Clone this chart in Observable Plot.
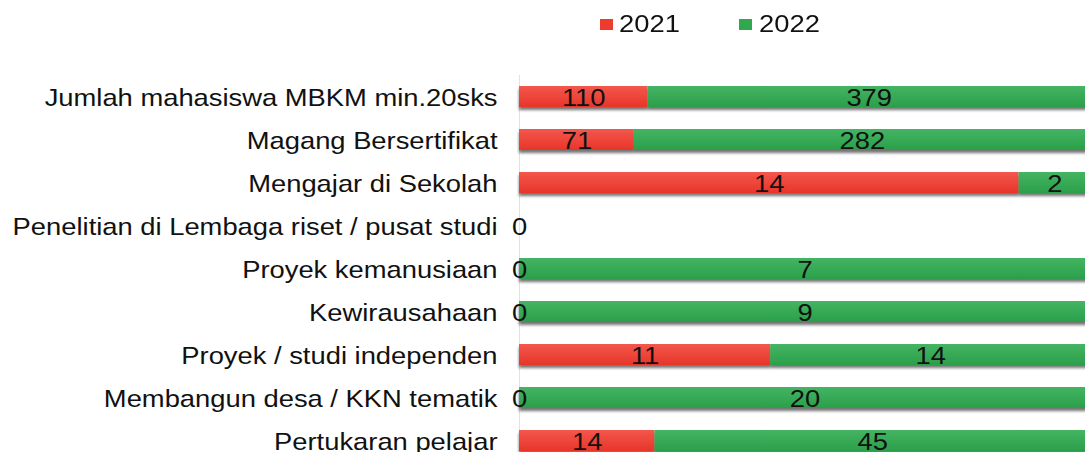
<!DOCTYPE html>
<html>
<head>
<meta charset="utf-8">
<script src="https://cdn.jsdelivr.net/npm/d3@7"></script>
<script src="https://cdn.jsdelivr.net/npm/@observablehq/plot@0.6"></script>
<style>
  html, body { margin: 0; padding: 0; background: #fff; overflow: hidden; width: 1085px; height: 452px; }
  #legend { position: relative; width: 1085px; height: 48px; font-family: "Liberation Sans", Arial, sans-serif; font-size: 24px; color: #111; }
  #legend .sw { position: absolute; width: 13px; height: 11px; }
  #legend .lb { position: absolute; top: 12px; line-height: 24px; transform: scaleX(1.14); transform-origin: left center; }
</style>
</head>
<body>
<div id="legend"></div>
<div id="chart"></div>
<script>
const categories = [
  "Jumlah mahasiswa MBKM min.20sks",
  "Magang Bersertifikat",
  "Mengajar di Sekolah",
  "Penelitian di Lembaga riset / pusat studi",
  "Proyek kemanusiaan",
  "Kewirausahaan",
  "Proyek / studi independen",
  "Membangun desa / KKN tematik",
  "Pertukaran pelajar"
];
const years = ["2021", "2022"];
const values2021 = [110, 71, 14, 0, 0, 0, 11, 0, 14];
const values2022 = [379, 282, 2, 0, 7, 9, 14, 20, 45];
const colors = ["#ee3b30", "#30a84f"];
const gradientStops = [["#f3574c", "#e8352a"], ["#44b463", "#2b9f4a"]];

const data = categories.flatMap((c, i) => [
  {cat: c, year: years[0], value: values2021[i], total: values2021[i] + values2022[i]},
  {cat: c, year: years[1], value: values2022[i], total: values2021[i] + values2022[i]}
]);

// legend
const legend = document.getElementById("legend");
const legendPos = [[600, 619], [739, 759]];
years.forEach((y, i) => {
  const sw = document.createElement("div");
  sw.className = "sw";
  sw.style.left = legendPos[i][0] + "px";
  sw.style.top = "19px";
  sw.style.background = colors[i];
  legend.appendChild(sw);
  const lb = document.createElement("div");
  lb.className = "lb";
  lb.style.left = legendPos[i][1] + "px";
  lb.textContent = y;
  legend.appendChild(lb);
});

const chart = Plot.plot({
  width: 1085,
  height: 404,
  marginLeft: 519,
  marginRight: 0,
  marginTop: 27,
  marginBottom: 0,
  style: {fontFamily: "'Liberation Sans', Arial, sans-serif", fontSize: "24px", color: "#111", background: "#fff"},
  x: {domain: [0, 1], range: [519, 1090], axis: null},
  y: {domain: categories, range: [14.3, 425.7], padding: 0.514, axis: null},
  color: {domain: years, range: years.map(y => `url(#grad${y})`)},
  marks: [
    Plot.ruleX([0], {stroke: "#e2e2e2", strokeWidth: 1}),
    Plot.barX(data, Plot.stackX({offset: "normalize", x: "value", y: "cat", fill: "year", z: "year"})),
    Plot.textX(data, Plot.stackX({
      offset: "normalize", x: "value", y: "cat", z: "year", text: "value",
      fill: "#111", dy: 1.5,
      filter: d => !(d.total === 0 && d.year === years[1])
    })),
    Plot.axisY({tickSize: 0, tickPadding: 22, label: null, fontSize: 24, fill: "#111", dy: 1.5})
  ]
});

// gradients and shadow definitions
const svg = d3.select(chart);
const defs = svg.insert("defs", ":first-child");
years.forEach((y, i) => {
  const g = defs.append("linearGradient").attr("id", `grad${y}`).attr("x1", 0).attr("y1", 0).attr("x2", 0).attr("y2", 1);
  g.append("stop").attr("offset", "0%").attr("stop-color", gradientStops[i][0]);
  g.append("stop").attr("offset", "100%").attr("stop-color", gradientStops[i][1]);
});
const f = defs.append("filter").attr("id", "barShadow")
  .attr("x", "-5%").attr("y", "-40%").attr("width", "110%").attr("height", "200%");
f.append("feGaussianBlur").attr("in", "SourceAlpha").attr("stdDeviation", 1.6).attr("result", "b");
f.append("feOffset").attr("in", "b").attr("dx", 0).attr("dy", 3).attr("result", "o");
const ct = f.append("feComponentTransfer").attr("in", "o").attr("result", "s");
ct.append("feFuncA").attr("type", "linear").attr("slope", 0.55);
const m = f.append("feMerge");
m.append("feMergeNode").attr("in", "s");
m.append("feMergeNode").attr("in", "SourceGraphic");
svg.selectAll('g[aria-label="bar"]').attr("filter", "url(#barShadow)");

// horizontally widen glyphs to match the reference's stretched type
const SX = 1.14;
svg.selectAll("text").each(function () {
  const t = d3.select(this);
  const tr = t.attr("transform");
  if (tr && tr.includes("translate")) {
    t.attr("transform", tr + ` scale(${SX},1)`);
  } else {
    const x = +(t.attr("x") || 0), y = +(t.attr("y") || 0);
    t.attr("x", null).attr("y", null);
    t.attr("transform", (tr ? tr + " " : "") + `translate(${x},${y}) scale(${SX},1)`);
  }
});

document.getElementById("chart").appendChild(chart);
</script>
</body>
</html>
